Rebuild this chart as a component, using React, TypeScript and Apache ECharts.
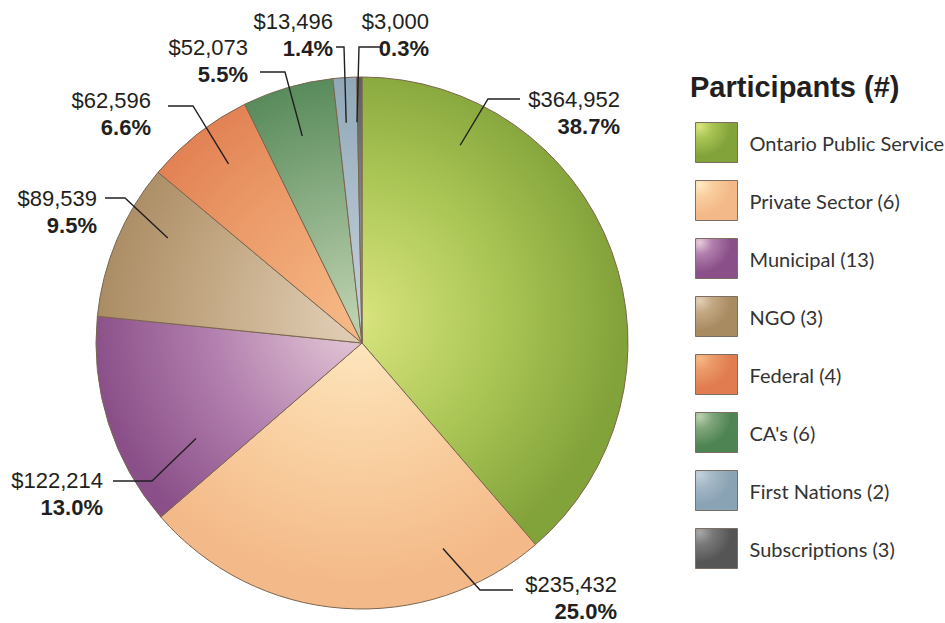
import React, { useEffect, useRef } from "react";
import * as echarts from "echarts";

// ---- data ----
const categories = [
  "Ontario Public Service",
  "Private Sector (6)",
  "Municipal (13)",
  "NGO (3)",
  "Federal (4)",
  "CA's (6)",
  "First Nations (2)",
  "Subscriptions (3)",
];
const amounts = [364952, 235432, 122214, 89539, 62596, 52073, 13496, 3000];

// ---- styles ----
const rimColors = ["#82a23a", "#f4b988", "#8a4f88", "#a98b62", "#e07c50", "#4e8454", "#8aa3b4", "#555555"];
const midColors = ["#a9c554", "#f9cfa0", "#b27fae", "#c4a985", "#eb9a68", "#80a67c", "#a5b8c6", "#7a7a7a"];
const coreColors = ["#d9e47e", "#fee9c2", "#e8cdd9", "#e2d0b8", "#f6b986", "#bcd1ae", "#c3d1db", "#a8a8a8"];

const CX = 362;
const CY = 343;
const R = 266;

// leader-line / label placement (layout only)
const leaderLayout = [
  { anchorDeg: 26.4, anchorR: 0.83, elbow: [488, 99], end: [520, 99], textRight: 620, textTop: 86 },
  { anchorDeg: 158.5, anchorR: 0.83, elbow: [480, 590], end: [513, 590], textRight: 617, textTop: 571 },
  { anchorDeg: 240.1, anchorR: 0.72, elbow: [152, 481], end: [113, 481], textRight: 103, textTop: 467 },
  { anchorDeg: 298.4, anchorR: 0.83, elbow: [125, 198], end: [105, 198], textRight: 97, textTop: 185 },
  { anchorDeg: 323.3, anchorR: 0.84, elbow: [193, 106], end: [168, 106], textRight: 151, textTop: 87 },
  { anchorDeg: 343.9, anchorR: 0.81, elbow: [285, 72], end: [260, 72], textRight: 248, textTop: 34 },
  { anchorDeg: 355.9, anchorR: 0.83, elbow: [344, 47], end: [336, 47], textRight: 333, textTop: 8 },
  { anchorDeg: 358.7, anchorR: 0.83, elbow: [359, 47], end: [383, 47], textRight: 429, textTop: 8 },
];

const fmtMoney = (v: number) => "$" + v.toLocaleString("en-US");

const anchorPoint = (g: (typeof leaderLayout)[number]) => {
  const a = (g.anchorDeg * Math.PI) / 180;
  return [CX + R * g.anchorR * Math.sin(a), CY - R * g.anchorR * Math.cos(a)];
};

export default function App() {
  const ref = useRef<HTMLDivElement>(null);

  useEffect(() => {
    if (!ref.current) return;
    const chart = echarts.init(ref.current, undefined, { renderer: "svg" });

    const seriesData = categories.map((name, i) => ({
      name,
      value: amounts[i],
      itemStyle: {
        color: new echarts.graphic.RadialGradient(
          CX - 5,
          CY - 25,
          R,
          [
            { offset: 0, color: coreColors[i] },
            { offset: 0.55, color: midColors[i] },
            { offset: 1, color: rimColors[i] },
          ],
          true
        ),
      },
    }));

    const legendData = categories.map((name, i) => ({
      name,
      itemStyle: {
        color: new echarts.graphic.RadialGradient(0.1, 0.1, 1.0, [
          { offset: 0, color: coreColors[i] },
          { offset: 0.3, color: midColors[i] },
          { offset: 0.75, color: rimColors[i] },
          { offset: 1, color: rimColors[i] },
        ]),
        borderColor: "#7d6e63",
        borderWidth: 1,
      },
    }));

    const leaderLines = leaderLayout.map((g) => ({
      type: "polyline",
      z: 100,
      silent: true,
      shape: { points: [anchorPoint(g), g.elbow, g.end] },
      style: { stroke: "#231f20", lineWidth: 1.4, fill: null },
    }));

    chart.setOption({
      animation: false,
      backgroundColor: "#ffffff",
      title: {
        text: "Participants (#)",
        left: 690,
        top: 72,
        padding: 0,
        textStyle: {
          fontFamily: "Liberation Sans, Arial, sans-serif",
          fontWeight: "bold",
          fontSize: 29,
          color: "#231f20",
        },
      },
      legend: {
        orient: "vertical",
        left: 695,
        top: 122,
        padding: 0,
        itemWidth: 42,
        itemHeight: 40,
        itemGap: 17,
        icon: "rect",
        selectedMode: false,
        data: legendData,
        textStyle: {
          fontFamily: "Lato, 'Open Sans', sans-serif",
          fontSize: 20,
          color: "#333333",
          padding: [0, 0, 0, 7],
        },
      },
      graphic: leaderLines,
      series: [
        {
          type: "pie",
          center: [CX, CY],
          radius: R,
          startAngle: 90,
          clockwise: true,
          avoidLabelOverlap: false,
          percentPrecision: 1,
          emphasis: { disabled: true },
          itemStyle: {
            borderColor: "#7a6650",
            borderWidth: 1,
          },
          label: {
            show: true,
            position: "outside",
            color: "#231f20",
            formatter: (p: any) => `{v|${fmtMoney(p.value)}}\n{p|${p.percent.toFixed(1)}%}`,
            rich: {
              v: {
                fontFamily: "Liberation Sans, Arial, sans-serif",
                fontSize: 22,
                lineHeight: 27,
                color: "#231f20",
                align: "right",
              },
              p: {
                fontFamily: "Liberation Sans, Arial, sans-serif",
                fontSize: 22,
                fontWeight: "bold",
                lineHeight: 27,
                color: "#231f20",
                align: "right",
              },
            },
          },
          labelLine: { show: false },
          labelLayout: (params: any) => {
            const g = leaderLayout[params.dataIndex];
            return {
              x: g.textRight,
              y: g.textTop,
              align: "right",
              verticalAlign: "top",
            };
          },
          data: seriesData,
        },
      ],
    });

    return () => chart.dispose();
  }, []);

  return (
    <div
      ref={ref}
      style={{ position: "fixed", left: 0, top: 0, width: 945, height: 623, background: "#fff" }}
    />
  );
}
